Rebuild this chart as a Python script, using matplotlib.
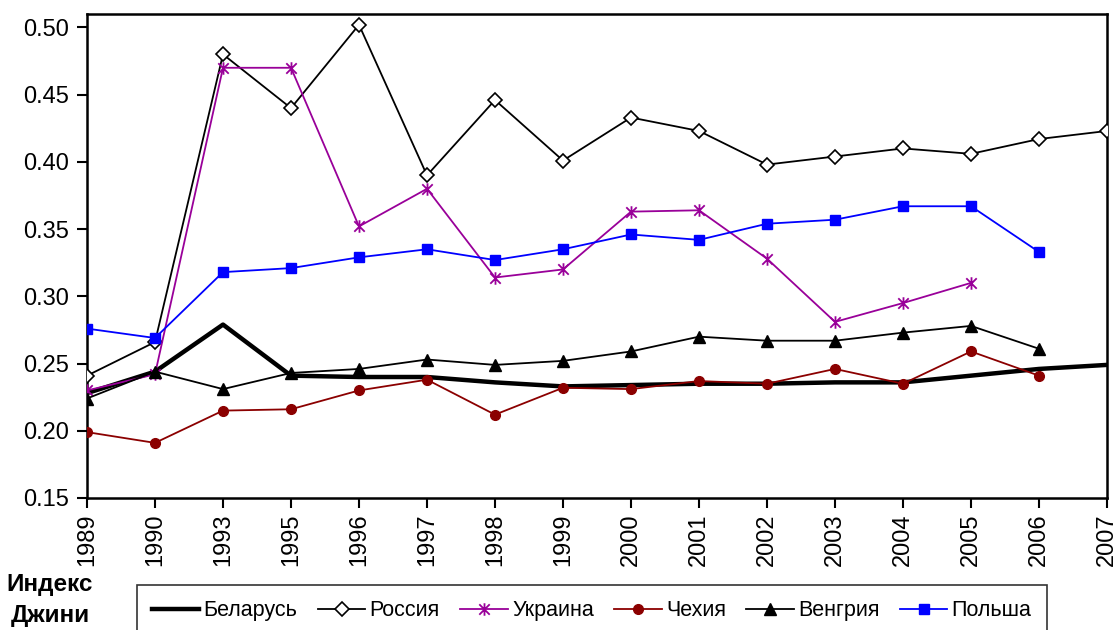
import matplotlib
matplotlib.use("Agg")
import matplotlib.pyplot as plt
from matplotlib.path import Path
import numpy as np

years = ["1989", "1990", "1993", "1995", "1996", "1997", "1998", "1999",
         "2000", "2001", "2002", "2003", "2004", "2005", "2006", "2007"]

belarus = [0.228, 0.244, 0.279, 0.241, 0.240, 0.240, 0.236, 0.233,
           0.234, 0.235, 0.235, 0.236, 0.236, 0.241, 0.246, 0.249]
russia = [0.241, 0.266, 0.480, 0.440, 0.502, 0.390, 0.446, 0.401,
          0.433, 0.423, 0.398, 0.404, 0.410, 0.406, 0.417, 0.423]
ukraine = [0.230, 0.242, 0.470, 0.470, 0.352, 0.380, 0.314, 0.320,
           0.363, 0.364, 0.328, 0.281, 0.295, 0.310, None, None]
czech = [0.199, 0.191, 0.215, 0.216, 0.230, 0.238, 0.212, 0.232,
         0.231, 0.237, 0.235, 0.246, 0.235, 0.259, 0.241, None]
hungary = [0.224, 0.244, 0.231, 0.243, 0.246, 0.253, 0.249, 0.252,
           0.259, 0.270, 0.267, 0.267, 0.273, 0.278, 0.261, None]
poland = [0.276, 0.269, 0.318, 0.321, 0.329, 0.335, 0.327, 0.335,
          0.346, 0.342, 0.354, 0.357, 0.367, 0.367, 0.333, None]

yticks = [0.15, 0.20, 0.25, 0.30, 0.35, 0.40, 0.45, 0.50]

plt.rcParams['font.family'] = ['Liberation Sans', 'DejaVu Sans']

def arr(v):
    return np.array([np.nan if x is None else x for x in v], dtype=float)

star = Path([(-1, -1), (1, 1), (-1, 1), (1, -1), (0, -1.2), (0, 1.2)],
            [Path.MOVETO, Path.LINETO, Path.MOVETO, Path.LINETO, Path.MOVETO, Path.LINETO])

fig = plt.figure(figsize=(11.18, 6.30), dpi=100)
ax = fig.add_axes([87/1118, 1 - 498/630, (1107 - 87)/1118, (498 - 14)/630])
x = np.arange(len(years))

ax.plot(x, arr(belarus), color='black', lw=3.2, label='Беларусь', zorder=3)
ax.plot(x, arr(russia), color='black', lw=1.3, marker='D', ms=7, mfc='white',
        mec='black', mew=1.2, label='Россия', zorder=4)
ax.plot(x, arr(ukraine), color='#990099', lw=1.3, marker=star, ms=9,
        mec='#990099', mew=1.3, label='Украина', zorder=4)
ax.plot(x, arr(czech), color='#8B0000', lw=1.3, marker='o', ms=7,
        mfc='#8B0000', mec='#8B0000', label='Чехия', zorder=4)
ax.plot(x, arr(hungary), color='black', lw=1.3, marker='^', ms=8,
        mfc='black', mec='black', label='Венгрия', zorder=4)
ax.plot(x, arr(poland), color='#0000FF', lw=1.3, marker='s', ms=6.5,
        mfc='#0000FF', mec='#0000FF', label='Польша', zorder=4)

ax.set_xlim(0, len(years) - 1)
ax.set_ylim(0.15, 0.51)
ax.set_xticks(x)
ax.set_xticklabels(years, rotation=90, fontsize=17)
ax.set_yticks(yticks)
ax.set_yticklabels([f"{v:.2f}" for v in yticks], fontsize=17)
ax.tick_params(axis='both', direction='out', length=7, width=1.5, color='black')
ax.tick_params(axis='x', pad=4)
ax.tick_params(axis='y', pad=6)
for s in ax.spines.values():
    s.set_linewidth(1.8)
    s.set_color('black')

fig.text(50/1118, 1 - 600/630, "Индекс\nДжини", fontsize=17.5, fontweight='bold',
         ha='center', va='center', linespacing=1.45)

leg = fig.legend(loc='upper left', bbox_to_anchor=(137/1118, 1 - 585/630),
                 ncol=6, fontsize=15.5, frameon=True, fancybox=False,
                 edgecolor='black', handlelength=2.2, handletextpad=0.2,
                 columnspacing=0.95, borderpad=0.7, borderaxespad=0)
leg.get_frame().set_linewidth(1.2)

fig.savefig("out.png", dpi=100)
